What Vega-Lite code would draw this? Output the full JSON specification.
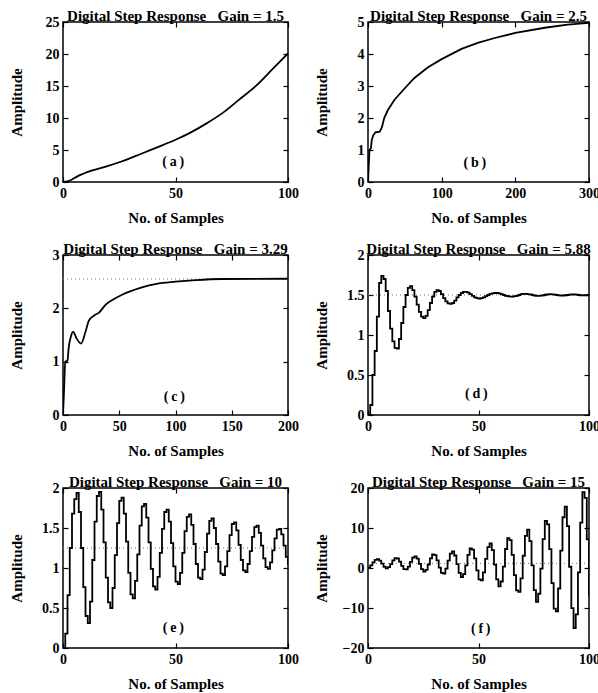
{
"$schema": "https://vega.github.io/schema/vega-lite/v6.json",
"padding": {"left": 8, "top": 8, "right": 0, "bottom": 2},
"background": "white",
"columns": 2,
"spacing": {"row": 73, "column": 80},
"bounds": "flush",
"datasets": {
"a": [{"n":0,"y":0},{"n":2,"y":0.1},{"n":4,"y":0.4},{"n":6,"y":0.8},{"n":8,"y":1.15},{"n":10,"y":1.45},{"n":13,"y":1.8},{"n":19,"y":2.4},{"n":26,"y":3.2},{"n":34,"y":4.3},{"n":41,"y":5.3},{"n":50,"y":6.6},{"n":56,"y":7.6},{"n":64,"y":9.2},{"n":71,"y":10.8},{"n":78,"y":12.8},{"n":86,"y":15.1},{"n":93,"y":17.6},{"n":100,"y":20.1}],
"b": [{"n":0,"y":0},{"n":1,"y":0.5},{"n":2,"y":1.0},{"n":4,"y":1.05},{"n":5,"y":1.3},{"n":7,"y":1.45},{"n":10,"y":1.55},{"n":16,"y":1.57},{"n":19,"y":1.72},{"n":22,"y":2.0},{"n":27,"y":2.25},{"n":36,"y":2.57},{"n":50,"y":2.93},{"n":63,"y":3.25},{"n":81,"y":3.58},{"n":100,"y":3.84},{"n":127,"y":4.16},{"n":149,"y":4.35},{"n":172,"y":4.5},{"n":200,"y":4.66},{"n":240,"y":4.82},{"n":271,"y":4.92},{"n":300,"y":4.97}],
"c": [{"n":0,"y":0},{"n":1,"y":0.5},{"n":2,"y":1.0},{"n":4,"y":1.02},{"n":5,"y":1.25},{"n":7,"y":1.47},{"n":9,"y":1.56},{"n":12,"y":1.44},{"n":16,"y":1.34},{"n":20,"y":1.56},{"n":23,"y":1.77},{"n":28,"y":1.87},{"n":32,"y":1.92},{"n":38,"y":2.07},{"n":45,"y":2.17},{"n":53,"y":2.26},{"n":68,"y":2.38},{"n":83,"y":2.46},{"n":100,"y":2.5},{"n":118,"y":2.53},{"n":142,"y":2.55},{"n":200,"y":2.555}],
"d": [{"n":0,"y":0},{"n":1,"y":0.125},{"n":2,"y":0.5},{"n":3,"y":0.8},{"n":4,"y":1.23},{"n":5,"y":1.65},{"n":6,"y":1.74},{"n":7,"y":1.7},{"n":8,"y":1.55},{"n":9,"y":1.3},{"n":10,"y":1.08},{"n":11,"y":0.92},{"n":12,"y":0.84},{"n":13,"y":0.83},{"n":14,"y":0.95},{"n":15,"y":1.15},{"n":16,"y":1.35},{"n":17,"y":1.5},{"n":18,"y":1.59},{"n":19,"y":1.61},{"n":20,"y":1.56},{"n":21,"y":1.48},{"n":22,"y":1.38},{"n":23,"y":1.29},{"n":24,"y":1.23},{"n":25,"y":1.21},{"n":26,"y":1.24},{"n":27,"y":1.31},{"n":28,"y":1.4},{"n":29,"y":1.48},{"n":30,"y":1.54},{"n":31,"y":1.56},{"n":32,"y":1.55},{"n":33,"y":1.51},{"n":34,"y":1.46},{"n":35,"y":1.42},{"n":36,"y":1.395},{"n":37,"y":1.39},{"n":38,"y":1.4},{"n":39,"y":1.43},{"n":40,"y":1.47},{"n":41,"y":1.5},{"n":42,"y":1.525},{"n":43,"y":1.54},{"n":44,"y":1.54},{"n":45,"y":1.53},{"n":46,"y":1.51},{"n":47,"y":1.49},{"n":48,"y":1.47},{"n":49,"y":1.46},{"n":50,"y":1.455},{"n":51,"y":1.46},{"n":52,"y":1.47},{"n":53,"y":1.485},{"n":54,"y":1.5},{"n":55,"y":1.515},{"n":56,"y":1.52},{"n":57,"y":1.525},{"n":58,"y":1.525},{"n":59,"y":1.52},{"n":60,"y":1.51},{"n":61,"y":1.5},{"n":62,"y":1.49},{"n":63,"y":1.485},{"n":64,"y":1.48},{"n":65,"y":1.48},{"n":66,"y":1.485},{"n":67,"y":1.49},{"n":68,"y":1.5},{"n":69,"y":1.51},{"n":70,"y":1.515},{"n":71,"y":1.515},{"n":72,"y":1.512},{"n":73,"y":1.508},{"n":74,"y":1.5},{"n":75,"y":1.494},{"n":76,"y":1.49},{"n":77,"y":1.49},{"n":78,"y":1.492},{"n":79,"y":1.497},{"n":80,"y":1.503},{"n":81,"y":1.508},{"n":82,"y":1.51},{"n":83,"y":1.508},{"n":84,"y":1.505},{"n":85,"y":1.5},{"n":86,"y":1.496},{"n":87,"y":1.494},{"n":88,"y":1.494},{"n":89,"y":1.497},{"n":90,"y":1.5},{"n":91,"y":1.504},{"n":92,"y":1.506},{"n":93,"y":1.506},{"n":94,"y":1.504},{"n":95,"y":1.5},{"n":96,"y":1.497},{"n":97,"y":1.496},{"n":98,"y":1.497},{"n":99,"y":1.5},{"n":100,"y":1.502}],
"e": [{"n":0,"y":0},{"n":1,"y":0.18},{"n":2,"y":0.66},{"n":3,"y":1.25},{"n":4,"y":1.68},{"n":5,"y":1.86},{"n":6,"y":1.94},{"n":7,"y":1.7},{"n":8,"y":1.25},{"n":9,"y":0.76},{"n":10,"y":0.4},{"n":11,"y":0.31},{"n":12,"y":0.58},{"n":13,"y":1.1},{"n":14,"y":1.58},{"n":15,"y":1.9},{"n":16,"y":1.95},{"n":17,"y":1.73},{"n":18,"y":1.32},{"n":19,"y":0.88},{"n":20,"y":0.57},{"n":21,"y":0.5},{"n":22,"y":0.75},{"n":23,"y":1.16},{"n":24,"y":1.56},{"n":25,"y":1.84},{"n":26,"y":1.88},{"n":27,"y":1.68},{"n":28,"y":1.33},{"n":29,"y":0.94},{"n":30,"y":0.67},{"n":31,"y":0.62},{"n":32,"y":0.84},{"n":33,"y":1.17},{"n":34,"y":1.53},{"n":35,"y":1.77},{"n":36,"y":1.8},{"n":37,"y":1.63},{"n":38,"y":1.32},{"n":39,"y":0.99},{"n":40,"y":0.77},{"n":41,"y":0.73},{"n":42,"y":0.89},{"n":43,"y":1.19},{"n":44,"y":1.49},{"n":45,"y":1.7},{"n":46,"y":1.73},{"n":47,"y":1.58},{"n":48,"y":1.31},{"n":49,"y":1.02},{"n":50,"y":0.83},{"n":51,"y":0.8},{"n":52,"y":0.94},{"n":53,"y":1.19},{"n":54,"y":1.46},{"n":55,"y":1.64},{"n":56,"y":1.67},{"n":57,"y":1.54},{"n":58,"y":1.3},{"n":59,"y":1.05},{"n":60,"y":0.88},{"n":61,"y":0.86},{"n":62,"y":0.98},{"n":63,"y":1.2},{"n":64,"y":1.43},{"n":65,"y":1.59},{"n":66,"y":1.62},{"n":67,"y":1.5},{"n":68,"y":1.3},{"n":69,"y":1.08},{"n":70,"y":0.93},{"n":71,"y":0.91},{"n":72,"y":1.02},{"n":73,"y":1.21},{"n":74,"y":1.41},{"n":75,"y":1.55},{"n":76,"y":1.57},{"n":77,"y":1.47},{"n":78,"y":1.29},{"n":79,"y":1.1},{"n":80,"y":0.97},{"n":81,"y":0.95},{"n":82,"y":1.05},{"n":83,"y":1.21},{"n":84,"y":1.39},{"n":85,"y":1.51},{"n":86,"y":1.53},{"n":87,"y":1.44},{"n":88,"y":1.28},{"n":89,"y":1.12},{"n":90,"y":1.01},{"n":91,"y":0.99},{"n":92,"y":1.07},{"n":93,"y":1.22},{"n":94,"y":1.37},{"n":95,"y":1.48},{"n":96,"y":1.49},{"n":97,"y":1.42},{"n":98,"y":1.28},{"n":99,"y":1.14},{"n":100,"y":1.04}],
"f": [{"n":0,"y":0},{"n":1,"y":0.68},{"n":2,"y":1.39},{"n":3,"y":2.01},{"n":4,"y":2.21},{"n":5,"y":1.85},{"n":6,"y":1.09},{"n":7,"y":0.31},{"n":8,"y":-0.06},{"n":9,"y":0.2},{"n":10,"y":0.98},{"n":11,"y":1.91},{"n":12,"y":2.49},{"n":13,"y":2.38},{"n":14,"y":1.6},{"n":15,"y":0.53},{"n":16,"y":-0.27},{"n":17,"y":-0.36},{"n":18,"y":0.36},{"n":19,"y":1.55},{"n":20,"y":2.6},{"n":21,"y":2.93},{"n":22,"y":2.32},{"n":23,"y":1.05},{"n":24,"y":-0.26},{"n":25,"y":-0.88},{"n":26,"y":-0.45},{"n":27,"y":0.87},{"n":28,"y":2.43},{"n":29,"y":3.39},{"n":30,"y":3.21},{"n":31,"y":1.91},{"n":32,"y":0.11},{"n":33,"y":-1.24},{"n":34,"y":-1.38},{"n":35,"y":-0.17},{"n":36,"y":1.83},{"n":37,"y":3.59},{"n":38,"y":4.14},{"n":39,"y":3.12},{"n":40,"y":0.97},{"n":41,"y":-1.22},{"n":42,"y":-2.27},{"n":43,"y":-1.54},{"n":44,"y":0.68},{"n":45,"y":3.3},{"n":46,"y":4.92},{"n":47,"y":4.61},{"n":48,"y":2.42},{"n":49,"y":-0.59},{"n":50,"y":-2.86},{"n":51,"y":-3.1},{"n":52,"y":-1.07},{"n":53,"y":2.29},{"n":54,"y":5.24},{"n":55,"y":6.18},{"n":56,"y":4.46},{"n":57,"y":0.85},{"n":58,"y":-2.82},{"n":59,"y":-4.58},{"n":60,"y":-3.37},{"n":61,"y":0.36},{"n":62,"y":4.75},{"n":63,"y":7.47},{"n":64,"y":6.96},{"n":65,"y":3.28},{"n":66,"y":-1.78},{"n":67,"y":-5.58},{"n":68,"y":-5.99},{"n":69,"y":-2.58},{"n":70,"y":3.06},{"n":71,"y":8.02},{"n":72,"y":9.59},{"n":73,"y":6.71},{"n":74,"y":0.65},{"n":75,"y":-5.52},{"n":76,"y":-8.48},{"n":77,"y":-6.44},{"n":78,"y":-0.17},{"n":79,"y":7.2},{"n":80,"y":11.77},{"n":81,"y":10.91},{"n":82,"y":4.73},{"n":83,"y":-3.77},{"n":84,"y":-10.14},{"n":85,"y":-10.83},{"n":86,"y":-5.12},{"n":87,"y":4.36},{"n":88,"y":12.69},{"n":89,"y":15.32},{"n":90,"y":10.49},{"n":91,"y":0.31},{"n":92,"y":-10.04},{"n":93,"y":-15.02},{"n":94,"y":-11.6},{"n":95,"y":-1.07},{"n":96,"y":11.32},{"n":97,"y":18.98},{"n":98,"y":17.53},{"n":99,"y":7.16},{"n":100,"y":-7.11}]
},
"concat": [
{
 "width": 225, "height": 160,
 "title": {"text": "Digital Step Response\u00a0\u00a0\u00a0Gain = 1.5"},
 "layer": [
  {"data": {"name": "a"}, "mark": {"type": "line", "color": "black", "strokeWidth": 1.8, "interpolate": "monotone", "clip": true},
   "encoding": {
    "x": {"field": "n", "type": "quantitative", "scale": {"domain": [0, 100], "nice": false}, "axis": {"values": [0, 50, 100], "title": "No. of Samples"}},
    "y": {"field": "y", "type": "quantitative", "scale": {"domain": [0, 25], "nice": false}, "axis": {"values": [0, 5, 10, 15, 20, 25], "title": "Amplitude"}}}},
  {"data": {"values": [{}]}, "mark": {"type": "text", "font": "Liberation Serif", "fontSize": 14, "fontWeight": "bold", "color": "black"},
   "encoding": {
    "x": {"datum": 49, "type": "quantitative", "scale": {"domain": [0, 100], "nice": false}, "axis": {"orient": "top", "values": [0, 50, 100], "labels": false, "title": null}},
    "y": {"datum": 3.1, "type": "quantitative", "scale": {"domain": [0, 25], "nice": false}, "axis": {"orient": "right", "values": [0, 5, 10, 15, 20, 25], "labels": false, "title": null}},
    "text": {"value": "(\u2009a\u2009)"}}}
 ],
 "resolve": {"axis": {"x": "independent", "y": "independent"}}
},
{
 "width": 221, "height": 160,
 "title": {"text": "Digital Step Response\u00a0\u00a0\u00a0Gain = 2.5"},
 "layer": [
  {"data": {"name": "b"}, "mark": {"type": "line", "color": "black", "strokeWidth": 1.8, "interpolate": "linear", "clip": true},
   "encoding": {
    "x": {"field": "n", "type": "quantitative", "scale": {"domain": [0, 300], "nice": false}, "axis": {"values": [0, 100, 200, 300], "title": "No. of Samples"}},
    "y": {"field": "y", "type": "quantitative", "scale": {"domain": [0, 5], "nice": false}, "axis": {"values": [0, 1, 2, 3, 4, 5], "title": "Amplitude"}}}},
  {"data": {"values": [{}]}, "mark": {"type": "text", "font": "Liberation Serif", "fontSize": 14, "fontWeight": "bold", "color": "black"},
   "encoding": {
    "x": {"datum": 145, "type": "quantitative", "scale": {"domain": [0, 300], "nice": false}, "axis": {"orient": "top", "values": [0, 100, 200, 300], "labels": false, "title": null}},
    "y": {"datum": 0.58, "type": "quantitative", "scale": {"domain": [0, 5], "nice": false}, "axis": {"orient": "right", "values": [0, 1, 2, 3, 4, 5], "labels": false, "title": null}},
    "text": {"value": "(\u2009b\u2009)"}}}
 ],
 "resolve": {"axis": {"x": "independent", "y": "independent"}}
},
{
 "width": 225, "height": 160,
 "title": {"text": "Digital Step Response\u00a0\u00a0\u00a0Gain = 3.29"},
 "layer": [
  {"data": {"values": [{}]}, "mark": {"type": "rule", "color": "#777777", "strokeDash": [1, 3], "strokeWidth": 1},
   "encoding": {"y": {"datum": 2.55, "type": "quantitative", "scale": {"domain": [0, 3], "nice": false}, "axis": null}}},
  {"data": {"name": "c"}, "mark": {"type": "line", "color": "black", "strokeWidth": 1.8, "interpolate": "monotone", "clip": true},
   "encoding": {
    "x": {"field": "n", "type": "quantitative", "scale": {"domain": [0, 200], "nice": false}, "axis": {"values": [0, 50, 100, 150, 200], "title": "No. of Samples"}},
    "y": {"field": "y", "type": "quantitative", "scale": {"domain": [0, 3], "nice": false}, "axis": {"values": [0, 1, 2, 3], "title": "Amplitude"}}}},
  {"data": {"values": [{}]}, "mark": {"type": "text", "font": "Liberation Serif", "fontSize": 14, "fontWeight": "bold", "color": "black"},
   "encoding": {
    "x": {"datum": 99, "type": "quantitative", "scale": {"domain": [0, 200], "nice": false}, "axis": {"orient": "top", "values": [0, 50, 100, 150, 200], "labels": false, "title": null}},
    "y": {"datum": 0.34, "type": "quantitative", "scale": {"domain": [0, 3], "nice": false}, "axis": {"orient": "right", "values": [0, 1, 2, 3], "labels": false, "title": null}},
    "text": {"value": "(\u2009c\u2009)"}}}
 ],
 "resolve": {"axis": {"x": "independent", "y": "independent"}}
},
{
 "width": 221, "height": 160,
 "title": {"text": "Digital Step Response\u00a0\u00a0\u00a0Gain = 5.88"},
 "layer": [
  {"data": {"values": [{}]}, "mark": {"type": "rule", "color": "#777777", "strokeDash": [1, 3], "strokeWidth": 1},
   "encoding": {"y": {"datum": 1.5, "type": "quantitative", "scale": {"domain": [0, 2], "nice": false}, "axis": null}}},
  {"data": {"name": "d"}, "mark": {"type": "line", "color": "black", "strokeWidth": 1.8, "interpolate": "step-after", "clip": true},
   "encoding": {
    "x": {"field": "n", "type": "quantitative", "scale": {"domain": [0, 100], "nice": false}, "axis": {"values": [0, 50, 100], "title": "No. of Samples"}},
    "y": {"field": "y", "type": "quantitative", "scale": {"domain": [0, 2], "nice": false}, "axis": {"values": [0, 0.5, 1, 1.5, 2], "format": "~g", "title": "Amplitude"}}}},
  {"data": {"values": [{}]}, "mark": {"type": "text", "font": "Liberation Serif", "fontSize": 14, "fontWeight": "bold", "color": "black"},
   "encoding": {
    "x": {"datum": 49, "type": "quantitative", "scale": {"domain": [0, 100], "nice": false}, "axis": {"orient": "top", "values": [0, 50, 100], "labels": false, "title": null}},
    "y": {"datum": 0.26, "type": "quantitative", "scale": {"domain": [0, 2], "nice": false}, "axis": {"orient": "right", "values": [0, 0.5, 1, 1.5, 2], "labels": false, "title": null}},
    "text": {"value": "(\u2009d\u2009)"}}}
 ],
 "resolve": {"axis": {"x": "independent", "y": "independent"}}
},
{
 "width": 225, "height": 160,
 "title": {"text": "Digital Step Response\u00a0\u00a0\u00a0Gain = 10"},
 "layer": [
  {"data": {"values": [{}]}, "mark": {"type": "rule", "color": "#777777", "strokeDash": [1, 3], "strokeWidth": 1},
   "encoding": {"y": {"datum": 1.25, "type": "quantitative", "scale": {"domain": [0, 2], "nice": false}, "axis": null}}},
  {"data": {"name": "e"}, "mark": {"type": "line", "color": "black", "strokeWidth": 1.8, "interpolate": "step-after", "clip": true},
   "encoding": {
    "x": {"field": "n", "type": "quantitative", "scale": {"domain": [0, 100], "nice": false}, "axis": {"values": [0, 50, 100], "title": "No. of Samples"}},
    "y": {"field": "y", "type": "quantitative", "scale": {"domain": [0, 2], "nice": false}, "axis": {"values": [0, 0.5, 1, 1.5, 2], "format": "~g", "title": "Amplitude"}}}},
  {"data": {"values": [{}]}, "mark": {"type": "text", "font": "Liberation Serif", "fontSize": 14, "fontWeight": "bold", "color": "black"},
   "encoding": {
    "x": {"datum": 49, "type": "quantitative", "scale": {"domain": [0, 100], "nice": false}, "axis": {"orient": "top", "values": [0, 50, 100], "labels": false, "title": null}},
    "y": {"datum": 0.25, "type": "quantitative", "scale": {"domain": [0, 2], "nice": false}, "axis": {"orient": "right", "values": [0, 0.5, 1, 1.5, 2], "labels": false, "title": null}},
    "text": {"value": "(\u2009e\u2009)"}}}
 ],
 "resolve": {"axis": {"x": "independent", "y": "independent"}}
},
{
 "width": 221, "height": 160,
 "title": {"text": "Digital Step Response\u00a0\u00a0\u00a0Gain = 15"},
 "layer": [
  {"data": {"values": [{}]}, "mark": {"type": "rule", "color": "#777777", "strokeDash": [1, 3], "strokeWidth": 1},
   "encoding": {"y": {"datum": 1.15, "type": "quantitative", "scale": {"domain": [-20, 20], "nice": false}, "axis": null}}},
  {"data": {"name": "f"}, "mark": {"type": "line", "color": "black", "strokeWidth": 1.8, "interpolate": "step-after", "clip": true},
   "encoding": {
    "x": {"field": "n", "type": "quantitative", "scale": {"domain": [0, 100], "nice": false}, "axis": {"values": [0, 50, 100], "title": "No. of Samples"}},
    "y": {"field": "y", "type": "quantitative", "scale": {"domain": [-20, 20], "nice": false, "zero": false}, "axis": {"values": [-20, -10, 0, 10, 20], "title": "Amplitude"}}}},
  {"data": {"values": [{}]}, "mark": {"type": "text", "font": "Liberation Serif", "fontSize": 14, "fontWeight": "bold", "color": "black"},
   "encoding": {
    "x": {"datum": 51, "type": "quantitative", "scale": {"domain": [0, 100], "nice": false}, "axis": {"orient": "top", "values": [0, 50, 100], "labels": false, "title": null}},
    "y": {"datum": -15.2, "type": "quantitative", "scale": {"domain": [-20, 20], "nice": false}, "axis": {"orient": "right", "values": [-20, -10, 0, 10, 20], "labels": false, "title": null}},
    "text": {"value": "(\u2009f\u2009)"}}}
 ],
 "resolve": {"axis": {"x": "independent", "y": "independent"}}
}
],
"config": {
 "view": {"stroke": "black", "strokeWidth": 1.5},
 "font": "Liberation Serif",
 "axis": {"grid": false, "domain": false, "tickColor": "black", "tickSize": -5, "tickWidth": 1.2, "labelPadding": 9, "labelFont": "Liberation Serif", "labelFontSize": 14, "labelFontWeight": "bold", "labelColor": "black", "titleFont": "Liberation Serif", "titleFontSize": 15, "titleFontWeight": "bold", "titleColor": "black", "minExtent": 0, "labelFlush": false, "labelOverlap": false},
 "axisLeft": {"titleX": -47, "titleY": 80, "titleAngle": -90, "titleBaseline": "middle", "titleAlign": "center"},
 "axisBottom": {"titleY": 28, "titleBaseline": "top"},
 "title": {"font": "Liberation Serif", "fontSize": 15, "fontWeight": "bold", "color": "black", "offset": -9, "baseline": "alphabetic", "frame": "group", "anchor": "middle"}
}
}
